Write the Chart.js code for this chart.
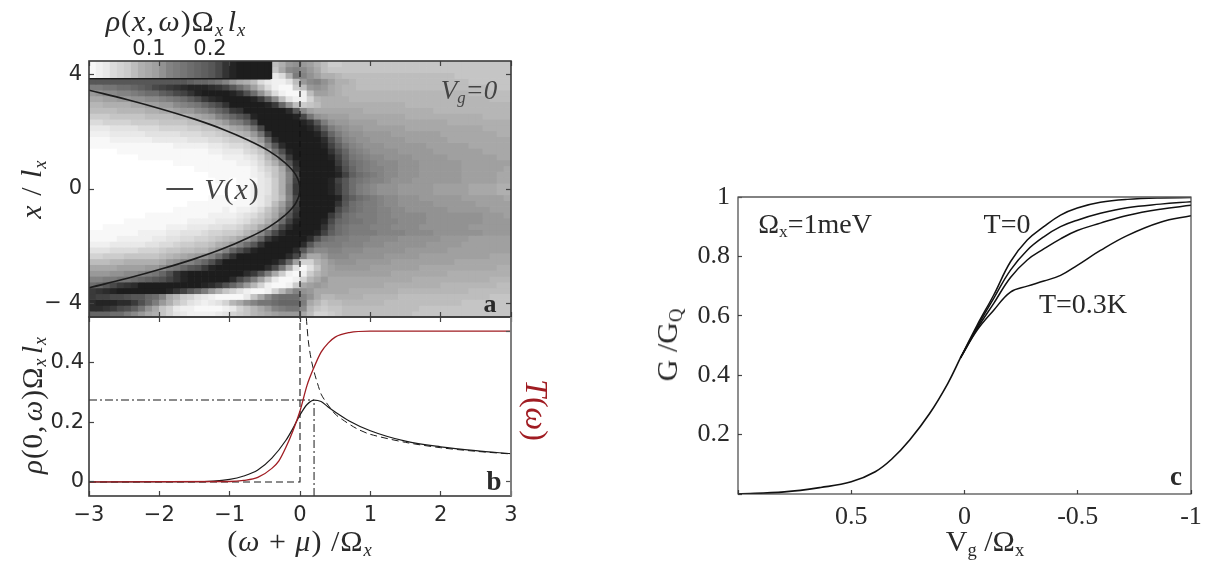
<!DOCTYPE html>
<html>
<head>
<meta charset="utf-8">
<title>rho, T and G</title>
<script src="https://cdn.jsdelivr.net/npm/chart.js@4"></script>
<style>
    body { margin: 0; background: #fff; width: 1208px; height: 561px; overflow: hidden; position: relative; }
    canvas { position: absolute; }
    .t { position: absolute; transform: translate(-50%, -50%); white-space: nowrap; color: #2a2a2a; line-height: 1; }
    .serif { font-family: "Liberation Serif", serif; }
    .sans { font-family: "DejaVu Sans", sans-serif; }
    .up { transform: translate(-50%, -50%) rotate(-90deg); }
    .down { transform: translate(-50%, -50%) rotate(90deg); }
    sub { font-size: 62%; line-height: 0; vertical-align: -0.25em; }
</style>
</head>
<body>
<canvas id="chartA" width="560" height="320" style="left:0;top:0"></canvas>
<canvas id="chartB" width="560" height="261" style="left:0;top:300px"></canvas>
<canvas id="chartC" width="568" height="391" style="left:640px;top:170px"></canvas>

<div class="t serif" style="left:176px;top:21px;font-size:30px;letter-spacing:1px"><i>ρ</i>(<i>x</i>,&#8202;<i>ω</i>)Ω<sub><i>x</i></sub>&#8202;<i>l<sub>x</sub></i></div>
<div class="t sans" style="left:149px;top:48px;font-size:21px">0.1</div>
<div class="t sans" style="left:210px;top:48px;font-size:21px">0.2</div>
<div class="t serif up" style="left:31px;top:189px;font-size:30px;letter-spacing:1px"><i>x</i> / <i>l<sub>x</sub></i></div>
<div class="t serif" style="left:232px;top:189px;font-size:30px;letter-spacing:1px;color:#444"><i>V</i>(<i>x</i>)</div>
<div class="t serif" style="left:469px;top:90px;font-size:27px;color:#444"><i>V<sub>g</sub>=0</i></div>
<div class="t serif" style="left:490px;top:304px;font-size:26px;font-weight:bold">a</div>
<div class="t serif" style="left:494px;top:481px;font-size:27px;font-weight:bold">b</div>
<div class="t serif up" style="left:32px;top:405px;font-size:29px;letter-spacing:1px"><i>ρ</i>(0,&#8202;<i>ω</i>)Ω<sub><i>x</i></sub>&#8202;<i>l<sub>x</sub></i></div>
<div class="t serif down" style="left:537px;top:410px;font-size:32px;color:#a01c22"><i>T</i>(<i>ω</i>)</div>
<div class="t serif" style="left:300px;top:541px;font-size:30px;letter-spacing:1px">(<i>ω</i> + <i>μ</i>) /Ω<sub><i>x</i></sub></div>
<div class="t serif" style="left:815px;top:224px;font-size:28px">Ω<sub>x</sub>=1meV</div>
<div class="t serif" style="left:1007px;top:224px;font-size:28px">T=0</div>
<div class="t serif" style="left:1083px;top:304px;font-size:28px">T=0.3K</div>
<div class="t serif" style="left:1176px;top:476px;font-size:27px;font-weight:bold">c</div>
<div class="t serif" style="left:985px;top:541px;font-size:30px">V<sub>g</sub> /Ω<sub>x</sub></div>
<div class="t serif up" style="left:667px;top:345px;font-size:30px">G /G<sub>Q</sub></div>

<script>
// panel a: density map, one char per cell, base 36 brightness (0 black, z white)
const omegaCols = [-2.95,-2.85,-2.75,-2.65,-2.55,-2.45,-2.35,-2.25,-2.15,-2.05,-1.95,-1.85,-1.75,-1.65,-1.55,-1.45,-1.35,-1.25,-1.15,-1.05,
    -0.95,-0.85,-0.75,-0.65,-0.55,-0.45,-0.35,-0.25,-0.15,-0.05,0.05,0.15,0.25,0.35,0.45,0.55,0.65,0.75,0.85,0.95,
    1.05,1.15,1.25,1.35,1.45,1.55,1.65,1.75,1.85,1.95,2.05,2.15,2.25,2.35,2.45,2.55,2.65,2.75,2.85,2.95];
const xRows = [4.368,4.165,3.962,3.758,3.555,3.352,3.149,2.946,2.742,2.539,2.336,2.133,1.93,1.726,1.523,1.32,1.117,0.914,0.71,0.507,0.304,0.101,
    -0.101,-0.304,-0.507,-0.71,-0.914,-1.117,-1.32,-1.523,-1.726,-1.93,-2.133,-2.336,-2.539,-2.742,-2.946,-3.149,-3.352,-3.555,-3.758,-3.962,-4.165,-4.368];
const rhoRows = [
    "iiiiiiiiii iiiiiiiiii iiiiiiqolk lmoqssrrrr rrrrrrrrrr rrrrrrrrrr",
    "iiiiiiiiii iiiiiiiiii iiiiiirnji jlnqrrrrrr rrrrrrrrrr rrrrrrrrrr",
    "iiiiiiiiii iiiiiiiiii iiiiiiwuoh ikmoopqqqq qqqqqqqqqq qqrrrrrrrr",
    "cccccccccc ccccdeefgi lnoquwxxvq ljikmoopqq qqqqqqqqqq qqqqrrrrrr",
    "hhggffedca 9876555679 cfimquxyys qlklnoppqq qqqqqqqqqq qqqqqqqrrr",
    "lkjjiihgff dca9754444 57bfkpuxyy xqmmnopppp pppppppppp ppppqqqqqq",
    "nnmmllkkjj ihgfdb8654 44458djqvx xtpooooppp pppppppppp pppppppqqq",
    "ppoooonnmm lljihgeca7 4444458ekq srqooooooo oooooppppp pppppppppp",
    "qqqqppppoo nnmlljigec 874444446c jmnnnnnnno ooooooooop pppppppppp",
    "sssrrrrrqq qqpponmlig eca5444445 agklmmmnnn nnnnnooooo oooooopppp",
    "uuttttssss rrrrqqponl ihea444444 57chkllmmm mnnnnnnnnn nooooooooo",
    "wwwvvvvuuu ttttssrrqp nmkga44444 458dhjkllm mmmmmnnnnn nnnnnnoooo",
    "xxxwwwwwvv vvvuuuttsr qpolg84444 4459ehjkkl lllmmmmmmm nnnnnnnnoo",
    "yyyxxxxxxw wwwwvvvuut ssrole6444 4446bfijkk lllllmmmmm mnnnnnnnnn",
    "yyyyyyyyyy yyxxxxxwwv uutroic644 44459dgijk kkllllllmm mmmmnnnnnn",
    "zzzzyyyyyy yyyyyyyxxw wwutrngb54 44447behij kkkklllllm mmmmmmnnnn",
    "zzzzzzzyyy yyyyyyyyyx xxwvtplf84 444459dghi jjkkkkllll lmmmmmmmnn",
    "zzzzzzzzzz zzyyyyyyyy yxxwurojc6 444448cfgh ijjjkkklll lllmmmmmmm",
    "zzzzzzzzzz zzzzzyyyyy yyyxvtrng7 444446begh iijjkkklll lllmmmmmmn",
    "zzzzzzzzzz zzzzzzzyyy yyyxwuroia 4444459dfg hijjkkklll lllmmmmmnn",
    "zzzzzzzzzz zzzzzzzzyy zyyywvsoi9 444459cfgh iijkkkllll lllmmmmmnn",
    "zzzzzzzzzz zzzzzzzzzz zyyxwvsoh8 444458cfhi jkkklllllm mmmmnnnnoo",
    "zzzzzzzzzz zzzzzzzzzz zyyxwvsoh8 444458cfhi jkkklllllm mmmmnnnnoo",
    "zzzzzzzzzz zzzzzzzyyy zyyxwuspia 444445bdfg hijjkkklll lllmmmmmmn",
    "zzzzzzzzzz zzzzyyyyyy yyyxwuqmg9 444447cfgh hijjkkkkkl lllllmmmmm",
    "zzzzzzzzzz zzyyyyyyyx yxxwuroke8 44444adfgh hiijjkkkkk kllllllmmm",
    "zzzzzzzzyy yyyyyyyxxx xwvusqnic7 44448cfghh hiijjjjjkk kkkkkklllm",
    "zzzzzyyyyy yyyyxxxxww wvusrolf95 4445aefggh hiiijjjjkk kkkkkkllll",
    "zzyyyyyyyy yxxxwwwvvu utrqnlga64 4447cfghhh iiijjjjkkk kkkkllllll",
    "yyyyyyyxxx xwwvvvutts srpnjfa644 4459dfghhh hiiiijjjjk kkkkkkllll",
    "yyyyxxxxxw wvvuuttsrq pnlie85444 46bfghhiii jjjjkkkkkk llllmmmmmm",
    "xxxwwwwwvv uutssrrqon lifc744444 6cghhhiiij jjkkkkkkll lllmmmmmmm",
    "vvvuuuuttt srrqqppnli eb85444446 chjjiijjjk kkkkklllll lmmmmmmmmm",
    "ttsssrrrrr qponmlkifb 744444446a innljjjkkk kklllllmmm mmmmmmmnnn",
    "qqqppooooo nlkiigeb74 44444458em ttpnlkkkll lllmmmmmmm mmnnnnnnnn",
    "nnnnmmmmll jhgecb8544 444446agnv yvrnmlllll mmmmmmmnnn nnnnnnnnoo",
    "lllkkjjihg eb75444444 4468chnsxy xspnmmmmmm mmmnnnnnnn nooooooooo",
    "iihhggfedc b975444444 6adhmrwyyx tpnlnnnnnn nnnnnnoooo oooooooppp",
    "feca876444 444444568b ehlptxyyxs nmlmnnnnnn nnoooooooo ppppppppqq",
    "8765444444 4579cehlor tvxyyxtpli klnnnnnooo oooopppppp ppppqqqqqq",
    "899aabccef inpstvwxyy yywrnjgfff iknppoooop ppppqqqqqq qqqqqqqrrr",
    "6555668beh lortvwxwvt pnkiggfeee hnprqqpppp ppqqqqqqqq qqqrrrrrrr",
    "6678abdgkn rtwxxyyyyx wtrpnlihgg jprsrrqqqq qqqqqqqrrr rrrrrrrrrr",
    "eeeffhjlno rtvwxxxxwv tsrponmlll nqttsrqqqq qqqqqqrrrr rrrrrrrrrr"
];
const colorbarShades = "yxwutsqonmkihgfedca7544444";
const vOmega = [-3, -2.45, -1.95, -1.5, -1.1, -0.75, -0.45, -0.22, -0.06, 0, -0.06, -0.22, -0.45, -0.75, -1.1, -1.5, -1.95, -2.45, -3];
const vX = [3.45, 3.12, 2.78, 2.44, 2.09, 1.72, 1.34, 0.93, 0.49, 0, -0.49, -0.93, -1.34, -1.72, -2.09, -2.44, -2.78, -3.12, -3.45];
const yTicksA = [-4, 0, 4];
const yLabelsA = ['\u2212 4', '0', '4'];

// panel b
const omegaRho = [-3, -1.5, -1, -0.8, -0.6, -0.4, -0.2, -0.1, 0, 0.1, 0.2, 0.3, 0.4, 0.5, 0.7, 1, 1.5, 2, 2.5, 3];
const rhoZero = [0, 0.001, 0.009, 0.02, 0.04, 0.08, 0.14, 0.18, 0.225, 0.26, 0.275, 0.27, 0.252, 0.235, 0.205, 0.172, 0.137, 0.118, 0.105, 0.095];
const omegaTrans = [-3, -1, -0.8, -0.6, -0.4, -0.3, -0.2, -0.1, 0, 0.1, 0.2, 0.3, 0.4, 0.5, 0.7, 1, 3];
const transmission = [0, 0.003, 0.01, 0.03, 0.09, 0.14, 0.23, 0.34, 0.47, 0.64, 0.76, 0.86, 0.92, 0.96, 0.99, 1, 1];
const omegaBare = [0.09, 0.12, 0.16, 0.2, 0.25, 0.3, 0.35, 0.4, 0.5, 0.6, 0.8, 1, 1.5, 2, 2.5, 3];
const rhoBare = [0.55, 0.47, 0.41, 0.37, 0.33, 0.295, 0.275, 0.258, 0.228, 0.21, 0.18, 0.16, 0.133, 0.115, 0.103, 0.094];
const peakOmega = 0.2;
const peakRho = 0.275;
const yTicksB = [0, 0.2, 0.4];
const yTicksT = [0, 1];
const xTicksAB = [-3, -2, -1, 0, 1, 2, 3];

// panel c
const vgShared = [1, 0.795, 0.635, 0.5, 0.394, 0.322, 0.242, 0.154, 0.074, 0.018];
const gShared = [0, 0.007, 0.022, 0.041, 0.075, 0.117, 0.182, 0.271, 0.372, 0.458];
const vgFan = [0.018, -0.056, -0.129, -0.203, -0.277, -0.35, -0.424, -0.498, -0.6, -0.718, -0.865, -1];
const gT0 = [0.458, 0.569, 0.67, 0.782, 0.855, 0.9, 0.939, 0.963, 0.982, 0.992, 0.997, 0.998];
const gT1 = [0.458, 0.563, 0.659, 0.754, 0.821, 0.866, 0.9, 0.922, 0.945, 0.964, 0.976, 0.984];
const gT2 = [0.458, 0.557, 0.642, 0.729, 0.788, 0.825, 0.859, 0.887, 0.912, 0.938, 0.959, 0.972];
const gT3 = [0.458, 0.552, 0.619, 0.68, 0.7, 0.717, 0.736, 0.77, 0.82, 0.87, 0.915, 0.937];
const xTicksC = [1, 0.5, 0, -0.5, -1];
const xLabelsC = ['', '0.5', '0', '-0.5', '-1'];
const yTicksC = [0, 0.2, 0.4, 0.6, 0.8, 1];
const yLabelsC = ['', '0.2', '0.4', '0.6', '0.8', '1'];

const RED = '#a01c22';
const INK = '#2a2a2a';
const SANS = 'DejaVu Sans';
const SERIF = 'Liberation Serif';

Chart.defaults.animation = false;
Chart.defaults.responsive = false;
Chart.defaults.plugins.legend.display = false;
Chart.defaults.plugins.tooltip.enabled = false;

function grey(ch) {
    let g = Math.round(parseInt(ch, 36) * 255 / 35);
    return `rgb(${g},${g},${g})`;
}

function xy(xs, ys) {
    return xs.map((x, i) => ({x: x, y: ys[i]}));
}

// one axis with inward ticks, fixed size so the plot area lands where it should
function axis(position, min, max, tickValues, size, extra) {
    extra = extra || {};
    let horizontal = position === 'top' || position === 'bottom';
    let labels = extra.labels;
    return {
        type: 'linear',
        position: position,
        min: min,
        max: max,
        reverse: !!extra.reverse,
        offset: false,
        border: {display: false},
        grid: {
            display: true,
            offset: false,
            drawOnChartArea: false,
            drawTicks: true,
            tickLength: -(extra.tick || 5),
            tickColor: extra.tickColor || '#444',
            tickWidth: 1.2,
            z: 2
        },
        ticks: {
            display: !!labels,
            maxRotation: 0,
            minRotation: 0,
            autoSkip: false,
            padding: extra.padding || 10,
            color: extra.color || INK,
            font: {family: extra.family || SANS, size: extra.fontSize || 21},
            callback: function (value) {
                let i = tickValues.indexOf(value);
                return labels ? labels[i] : '';
            }
        },
        afterBuildTicks: function (scale) {
            scale.ticks = tickValues.map(v => ({value: v}));
        },
        afterFit: function (scale) {
            if (horizontal) scale.height = size;
            else scale.width = size;
            // tick labels may hang over the plot edge, no extra room for them
            scale.paddingTop = scale.paddingBottom = scale.paddingLeft = scale.paddingRight = 0;
        }
    };
}

function framePlugin(color, rightColor, width, topColor) {
    return {
        id: 'frame',
        afterDraw: function (chart) {
            let a = chart.chartArea;
            let c = chart.ctx;
            c.save();
            c.lineWidth = width;
            c.strokeStyle = color;
            c.strokeRect(a.left, a.top, a.right - a.left, a.bottom - a.top);
            if (rightColor) {
                c.strokeStyle = rightColor;
                c.beginPath(); c.moveTo(a.right, a.top); c.lineTo(a.right, a.bottom); c.stroke();
            }
            if (topColor) {
                c.strokeStyle = topColor;
                c.beginPath(); c.moveTo(a.left, a.top); c.lineTo(a.right, a.top); c.stroke();
            }
            c.restore();
        }
    };
}

function lineSet(data, color, width, dash, extra) {
    return Object.assign({
        type: 'line',
        data: data,
        borderColor: color,
        borderWidth: width,
        borderDash: dash || [],
        pointRadius: 0,
        fill: false,
        tension: 0,
        order: 0
    }, extra || {});
}

// ---- panel a ----
const halfCell = 0.1016;
const mapSets = rhoRows.map(function (row, j) {
    let cells = row.replace(/ /g, '');
    return {
        type: 'bar',
        grouped: false,
        order: 5,
        barPercentage: 1,
        categoryPercentage: 1,
        borderWidth: 0,
        data: omegaCols.map(w => ({x: w, y: [xRows[j] - halfCell, xRows[j] + halfCell]})),
        backgroundColor: omegaCols.map((w, i) => grey(cells[i]))
    };
});
const barSet = {
    type: 'bar',
    grouped: false,
    order: 3,
    barPercentage: 1,
    categoryPercentage: 1,
    borderWidth: 0,
    data: colorbarShades.split('').map((s, i) => ({x: omegaCols[i], y: [3.85, 4.47]})),
    backgroundColor: colorbarShades.split('').map(grey)
};

new Chart(document.getElementById('chartA'), {
    type: 'bar',
    data: {
        datasets: [
            lineSet(xy(vOmega, vX), '#1c1c1c', 1.6, null, {tension: 0.4}),
            lineSet(xy([0, 0], [-4.47, 4.47]), '#111', 1.1, [6, 4]),
            lineSet(xy([-1.9, -1.52], [0, 0]), '#1c1c1c', 1.6),
            lineSet(xy([-3, -0.43, -0.43], [3.85, 3.85, 4.47]), '#1c1c1c', 1.6, null, {order: 1})
        ].concat([barSet], mapSets)
    },
    options: {
        layout: {autoPadding: false, padding: {left: 0, right: 49, top: 61, bottom: 3}},
        scales: {
            x: axis('bottom', -3, 3, xTicksAB, 0),
            xTop: axis('top', -3, 3, xTicksAB, 0),
            y: axis('left', -4.47, 4.47, yTicksA, 89, {labels: yLabelsA, padding: 12}),
            yRight: axis('right', -4.47, 4.47, yTicksA, 0)
        }
    },
    plugins: [framePlugin('#3a3a3a', null, 1.6)]
});

// ---- panel b ----
new Chart(document.getElementById('chartB'), {
    type: 'line',
    data: {
        datasets: [
            lineSet(xy(omegaTrans, transmission), RED, 1.3, null, {yAxisID: 'yT', cubicInterpolationMode: 'monotone'}),
            lineSet(xy(omegaRho, rhoZero), '#1a1a1a', 1.2, null, {cubicInterpolationMode: 'monotone'}),
            lineSet(xy(omegaBare, rhoBare), '#1a1a1a', 1, [7, 4], {tension: 0.3}),
            lineSet(xy([-3, 0, 0], [0, 0, 0.5537]), '#1a1a1a', 1.1, [7, 4]),
            lineSet(xy([-3, peakOmega], [peakRho, peakRho]), '#666', 1.5, [8, 3, 2, 3]),
            lineSet(xy([peakOmega, peakOmega], [-0.047, peakRho]), '#666', 1.5, [8, 3, 2, 3])
        ]
    },
    options: {
        layout: {autoPadding: false, padding: {left: 0, right: 49, top: 17, bottom: 0}},
        scales: {
            x: axis('bottom', -3, 3, xTicksAB, 65, {labels: xTicksAB.map(v => v < 0 ? '\u2212' + (-v) : String(v)), padding: 12}),
            xTop: axis('top', -3, 3, xTicksAB, 0),
            y: axis('left', -0.047, 0.5537, yTicksB, 89, {labels: yTicksB.map(String), padding: 10}),
            yT: axis('right', -0.093, 1.093, yTicksT, 0, {labels: yTicksT.map(String), color: RED, tickColor: '#555', padding: 11, fontSize: 22})
        }
    },
    plugins: [framePlugin('#3a3a3a', '#888', 1.6)]
});

// ---- panel c ----
const smooth = {tension: 0.4};
new Chart(document.getElementById('chartC'), {
    type: 'line',
    data: {
        datasets: [
            lineSet(xy(vgShared, gShared), '#111', 1.6, null, smooth),
            lineSet(xy(vgFan, gT0), '#111', 1.5, null, smooth),
            lineSet(xy(vgFan, gT1), '#111', 1.5, null, smooth),
            lineSet(xy(vgFan, gT2), '#111', 1.5, null, smooth),
            lineSet(xy(vgFan, gT3), '#111', 1.5, null, smooth)
        ]
    },
    options: {
        layout: {autoPadding: false, padding: {left: 0, right: 17, top: 27, bottom: 0}},
        scales: {
            x: axis('bottom', -1, 1, xTicksC, 67, {labels: xLabelsC, reverse: true, family: SERIF, fontSize: 26, padding: 12, tick: 4}),
            y: axis('left', 0, 1, yTicksC, 98, {labels: yLabelsC, family: SERIF, fontSize: 26, padding: 12, tick: 4})
        }
    },
    plugins: [framePlugin('#333', null, 1.1, '#777')]
});
</script>
</body>
</html>
